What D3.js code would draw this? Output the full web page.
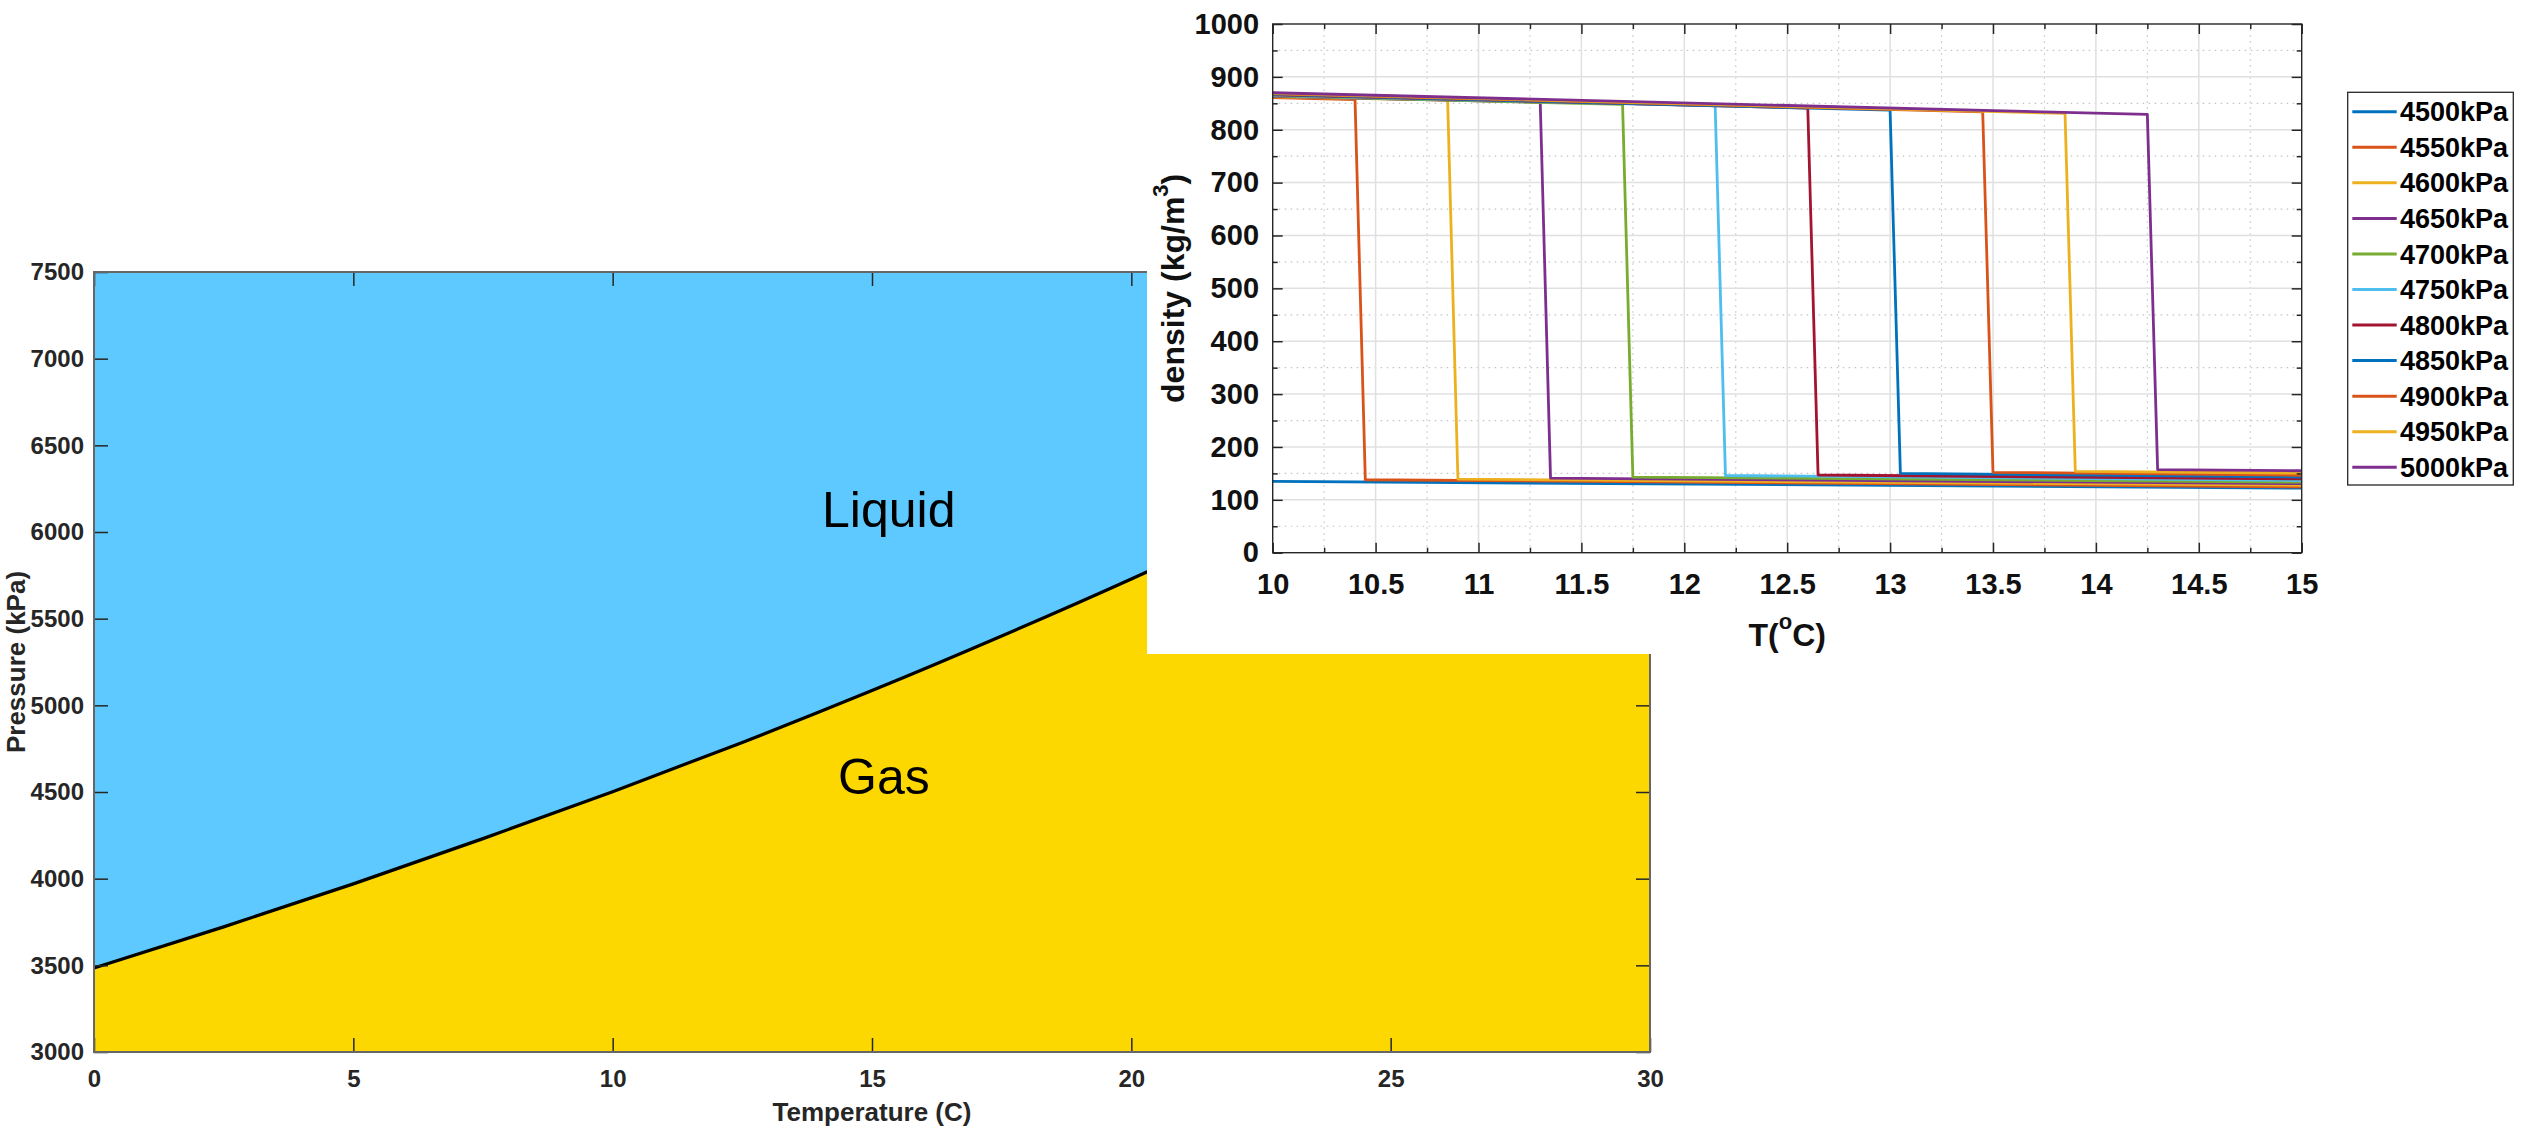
<!DOCTYPE html>
<html lang="en">
<head>
<meta charset="UTF-8">
<title>CO2 phase diagram and density</title>
<style>
    body { margin: 0; background: #fff; }
    svg { display: block; }
    text { font-family: 'Liberation Sans', Arial, Helvetica, sans-serif; }
</style>
</head>
<body>
<div id="chart"></div>
<script src="https://cdn.jsdelivr.net/npm/d3@7"></script>
<script>
    // ---- phase diagram data (saturation curve) ----
    const satTemp = [0, 2.5, 5, 7.5, 10, 12.5, 15, 17.5, 20, 22.5, 25, 27.5, 30];
    const satPress = [3485, 3722, 3970, 4231, 4502, 4786, 5085, 5400, 5729, 6075, 6434, 6815, 7214];
    const phaseXTicks = [0, 5, 10, 15, 20, 25, 30];
    const phaseYTicks = [3000, 3500, 4000, 4500, 5000, 5500, 6000, 6500, 7000, 7500];

    // ---- density vs temperature data, one entry per pressure ----
    const seriesNames = ['4500kPa', '4550kPa', '4600kPa', '4650kPa', '4700kPa', '4750kPa',
        '4800kPa', '4850kPa', '4900kPa', '4950kPa', '5000kPa'];
    const seriesColors = ['#0072BD', '#D95319', '#EDB120', '#7E2F8E', '#77AC30', '#4DBEEE',
        '#A2142F', '#0072BD', '#D95319', '#EDB120', '#7E2F8E'];
    // liquid branch (density at 10 C and just before the jump)
    const rhoLiqStart = [null, 861, 862, 863, 864, 865, 866, 867, 868, 869, 870];
    const tLiqEnd = [null, 10.40, 10.85, 11.30, 11.70, 12.15, 12.60, 13.00, 13.45, 13.85, 14.25];
    const rhoLiqEnd = [null, 857, 856, 852, 848, 845, 841, 837, 834, 831, 829];
    // gas branch (just after the jump, and at 15 C)
    const tGasStart = [10.00, 10.45, 10.90, 11.35, 11.75, 12.20, 12.65, 13.05, 13.50, 13.90, 14.30];
    const rhoGasStart = [135, 138, 139, 141, 143, 146, 147, 150, 152, 154, 157];
    const rhoGasEnd = [122, 124.5, 127.5, 130.5, 133.5, 136.5, 139.5, 143, 146.5, 150.5, 155];
    const densXTicks = [10, 10.5, 11, 11.5, 12, 12.5, 13, 13.5, 14, 14.5, 15];
    const densYTicks = [0, 100, 200, 300, 400, 500, 600, 700, 800, 900, 1000];

    const FONT = "'Liberation Sans', Arial, Helvetica, sans-serif";

    const svg = d3.select('#chart')
        .append('svg')
        .attr('width', 2521)
        .attr('height', 1131);

    // ================= left chart: phase diagram =================
    const xL = d3.scaleLinear().domain([0, 30]).range([94, 1650]);
    const yL = d3.scaleLinear().domain([3000, 7500]).range([1052, 272]);

    const gL = svg.append('g');
    const pts = satTemp.map((t, i) => [t, satPress[i]]);

    gL.append('rect')
        .attr('x', xL(0)).attr('y', yL(7500))
        .attr('width', xL(30) - xL(0)).attr('height', yL(3000) - yL(7500))
        .attr('fill', '#5EC9FE');

    gL.append('path')
        .datum(pts)
        .attr('fill', '#FDD700')
        .attr('d', d3.area()
            .x(d => xL(d[0]))
            .y0(yL(3000))
            .y1(d => yL(d[1]))
            .curve(d3.curveMonotoneX));

    gL.append('path')
        .datum(pts)
        .attr('fill', 'none')
        .attr('stroke', '#000')
        .attr('stroke-width', 3.2)
        .attr('d', d3.line()
            .x(d => xL(d[0]))
            .y(d => yL(d[1]))
            .curve(d3.curveMonotoneX));

    function styleAxis(g, size, color) {
        g.attr('font-family', FONT).attr('font-size', size).attr('font-weight', 'bold');
        g.select('.domain').remove();
        g.selectAll('.tick line').attr('stroke', '#262626').attr('stroke-width', 1.5);
        g.selectAll('.tick text').attr('fill', color);
    }

    const fmt = d3.format('');

    gL.append('g')
        .attr('transform', `translate(0,${yL(3000)})`)
        .call(d3.axisBottom(xL).tickValues(phaseXTicks).tickFormat(fmt).tickSizeInner(-14).tickSizeOuter(0).tickPadding(18))
        .call(g => styleAxis(g, 24, '#262626'));
    gL.append('g')
        .attr('transform', `translate(0,${yL(7500)})`)
        .call(d3.axisTop(xL).tickValues(phaseXTicks).tickSizeInner(-14).tickSizeOuter(0).tickFormat(() => ''))
        .call(g => styleAxis(g, 24, '#262626'));
    gL.append('g')
        .attr('transform', `translate(${xL(0)},0)`)
        .call(d3.axisLeft(yL).tickValues(phaseYTicks).tickFormat(fmt).tickSizeInner(-14).tickSizeOuter(0).tickPadding(10))
        .call(g => styleAxis(g, 24, '#262626'));
    gL.append('g')
        .attr('transform', `translate(${xL(30)},0)`)
        .call(d3.axisRight(yL).tickValues(phaseYTicks).tickSizeInner(-14).tickSizeOuter(0).tickFormat(() => ''))
        .call(g => styleAxis(g, 24, '#262626'));

    gL.append('rect')
        .attr('x', xL(0)).attr('y', yL(7500))
        .attr('width', xL(30) - xL(0)).attr('height', yL(3000) - yL(7500))
        .attr('fill', 'none')
        .attr('stroke', '#666')
        .attr('stroke-width', 2);

    gL.append('text')
        .text('Temperature (C)')
        .attr('x', (xL(0) + xL(30)) / 2).attr('y', 1121)
        .attr('text-anchor', 'middle')
        .attr('font-size', 26).attr('font-weight', 'bold')
        .attr('fill', '#262626');
    gL.append('text')
        .text('Pressure (kPa)')
        .attr('transform', `translate(25,${(yL(3000) + yL(7500)) / 2}) rotate(-90)`)
        .attr('text-anchor', 'middle')
        .attr('font-size', 26).attr('font-weight', 'bold')
        .attr('fill', '#262626');

    gL.append('text').text('Liquid')
        .attr('x', 822).attr('y', 527)
        .attr('font-size', 50).attr('fill', '#000');
    gL.append('text').text('Gas')
        .attr('x', 838).attr('y', 794)
        .attr('font-size', 50).attr('fill', '#000');

    // ================= right chart: density (inset figure) =================
    svg.append('rect')
        .attr('x', 1147).attr('y', 0)
        .attr('width', 2521 - 1147).attr('height', 654)
        .attr('fill', '#fff');

    const xR = d3.scaleLinear().domain([10, 15]).range([1272.7, 2301.7]);
    const yR = d3.scaleLinear().domain([0, 1000]).range([552.7, 24]);
    const gR = svg.append('g');

    const xMinor = d3.range(10.25, 15, 0.5);
    const yMinor = d3.range(50, 1000, 100);

    // grid
    gR.append('g').selectAll('line')
        .data(xMinor).join('line')
        .attr('x1', d => xR(d)).attr('x2', d => xR(d))
        .attr('y1', yR(0)).attr('y2', yR(1000))
        .attr('stroke', '#c4c4c4').attr('stroke-width', 1.2)
        .attr('stroke-dasharray', '1.5,4.5');
    gR.append('g').selectAll('line')
        .data(yMinor).join('line')
        .attr('x1', xR(10)).attr('x2', xR(15))
        .attr('y1', d => yR(d)).attr('y2', d => yR(d))
        .attr('stroke', '#c4c4c4').attr('stroke-width', 1.2)
        .attr('stroke-dasharray', '1.5,4.5');
    gR.append('g').selectAll('line')
        .data(densXTicks.slice(1, -1)).join('line')
        .attr('x1', d => xR(d)).attr('x2', d => xR(d))
        .attr('y1', yR(0)).attr('y2', yR(1000))
        .attr('stroke', '#e0e0e0').attr('stroke-width', 1.5);
    gR.append('g').selectAll('line')
        .data(densYTicks.slice(1, -1)).join('line')
        .attr('x1', xR(10)).attr('x2', xR(15))
        .attr('y1', d => yR(d)).attr('y2', d => yR(d))
        .attr('stroke', '#e0e0e0').attr('stroke-width', 1.5);

    // series
    const series = seriesNames.map((name, i) => {
        const p = [];
        if (rhoLiqStart[i] !== null) {
            p.push([10, rhoLiqStart[i]], [tLiqEnd[i], rhoLiqEnd[i]]);
        }
        p.push([tGasStart[i], rhoGasStart[i]], [15, rhoGasEnd[i]]);
        return { name, color: seriesColors[i], points: p };
    });

    svg.append('clipPath').attr('id', 'clipR')
        .append('rect')
        .attr('x', xR(10)).attr('y', yR(1000))
        .attr('width', xR(15) - xR(10)).attr('height', yR(0) - yR(1000));

    const line = d3.line().x(d => xR(d[0])).y(d => yR(d[1]));
    gR.append('g')
        .attr('clip-path', 'url(#clipR)')
        .selectAll('path')
        .data(series).join('path')
        .attr('fill', 'none')
        .attr('stroke', d => d.color)
        .attr('stroke-width', 2.8)
        .attr('stroke-linejoin', 'round')
        .attr('d', d => line(d.points));

    // axes (major + minor ticks on all four sides)
    gR.append('g')
        .attr('transform', `translate(0,${yR(0)})`)
        .call(d3.axisBottom(xR).tickValues(densXTicks).tickFormat(fmt).tickSizeInner(-10).tickSizeOuter(0).tickPadding(20.7))
        .call(g => styleAxis(g, 29, '#111'));
    gR.append('g')
        .attr('transform', `translate(0,${yR(0)})`)
        .call(d3.axisBottom(xR).tickValues(xMinor).tickFormat(() => '').tickSizeInner(-5).tickSizeOuter(0))
        .call(g => styleAxis(g, 29, '#111'));
    gR.append('g')
        .attr('transform', `translate(0,${yR(1000)})`)
        .call(d3.axisTop(xR).tickValues(densXTicks).tickFormat(() => '').tickSizeInner(-10).tickSizeOuter(0))
        .call(g => styleAxis(g, 29, '#111'));
    gR.append('g')
        .attr('transform', `translate(0,${yR(1000)})`)
        .call(d3.axisTop(xR).tickValues(xMinor).tickFormat(() => '').tickSizeInner(-5).tickSizeOuter(0))
        .call(g => styleAxis(g, 29, '#111'));
    gR.append('g')
        .attr('transform', `translate(${xR(10)},0)`)
        .call(d3.axisLeft(yR).tickValues(densYTicks).tickFormat(fmt).tickSizeInner(-10).tickSizeOuter(0).tickPadding(13.7))
        .call(g => styleAxis(g, 29, '#111'));
    gR.append('g')
        .attr('transform', `translate(${xR(10)},0)`)
        .call(d3.axisLeft(yR).tickValues(yMinor).tickFormat(() => '').tickSizeInner(-5).tickSizeOuter(0))
        .call(g => styleAxis(g, 29, '#111'));
    gR.append('g')
        .attr('transform', `translate(${xR(15)},0)`)
        .call(d3.axisRight(yR).tickValues(densYTicks).tickFormat(() => '').tickSizeInner(-10).tickSizeOuter(0))
        .call(g => styleAxis(g, 29, '#111'));
    gR.append('g')
        .attr('transform', `translate(${xR(15)},0)`)
        .call(d3.axisRight(yR).tickValues(yMinor).tickFormat(() => '').tickSizeInner(-5).tickSizeOuter(0))
        .call(g => styleAxis(g, 29, '#111'));

    gR.append('rect')
        .attr('x', xR(10)).attr('y', yR(1000))
        .attr('width', xR(15) - xR(10)).attr('height', yR(0) - yR(1000))
        .attr('fill', 'none')
        .attr('stroke', '#262626')
        .attr('stroke-width', 1.4);

    // axis titles
    const tTitle = gR.append('text')
        .attr('x', (xR(10) + xR(15)) / 2).attr('y', 646)
        .attr('text-anchor', 'middle')
        .attr('font-size', 32).attr('font-weight', 'bold')
        .attr('fill', '#111');
    tTitle.append('tspan').text('T(');
    tTitle.append('tspan').text('o').attr('font-size', 22).attr('dy', -17);
    tTitle.append('tspan').text('C)').attr('dy', 17);

    const dTitle = gR.append('text')
        .attr('transform', `translate(1184,${(yR(0) + yR(1000)) / 2}) rotate(-90)`)
        .attr('text-anchor', 'middle')
        .attr('font-size', 32).attr('font-weight', 'bold')
        .attr('fill', '#111');
    dTitle.append('tspan').text('density (kg/m');
    dTitle.append('tspan').text('3').attr('font-size', 22).attr('dy', -16);
    dTitle.append('tspan').text(')').attr('dy', 16);

    // legend
    const legend = svg.append('g').attr('transform', 'translate(2347.7,92.3)');
    legend.append('rect')
        .attr('width', 165.6).attr('height', 392.7)
        .attr('fill', '#fff')
        .attr('stroke', '#262626')
        .attr('stroke-width', 1.3);
    const items = legend.selectAll('g.item')
        .data(series).join('g')
        .attr('class', 'item')
        .attr('transform', (d, i) => `translate(0,${19.4 + i * 35.56})`);
    items.append('line')
        .attr('x1', 4.6).attr('x2', 49)
        .attr('stroke', d => d.color)
        .attr('stroke-width', 3);
    items.append('text')
        .text(d => d.name)
        .attr('x', 52.3).attr('y', 9.6)
        .attr('font-size', 27).attr('font-weight', 'bold')
        .attr('fill', '#000');
</script>
</body>
</html>
